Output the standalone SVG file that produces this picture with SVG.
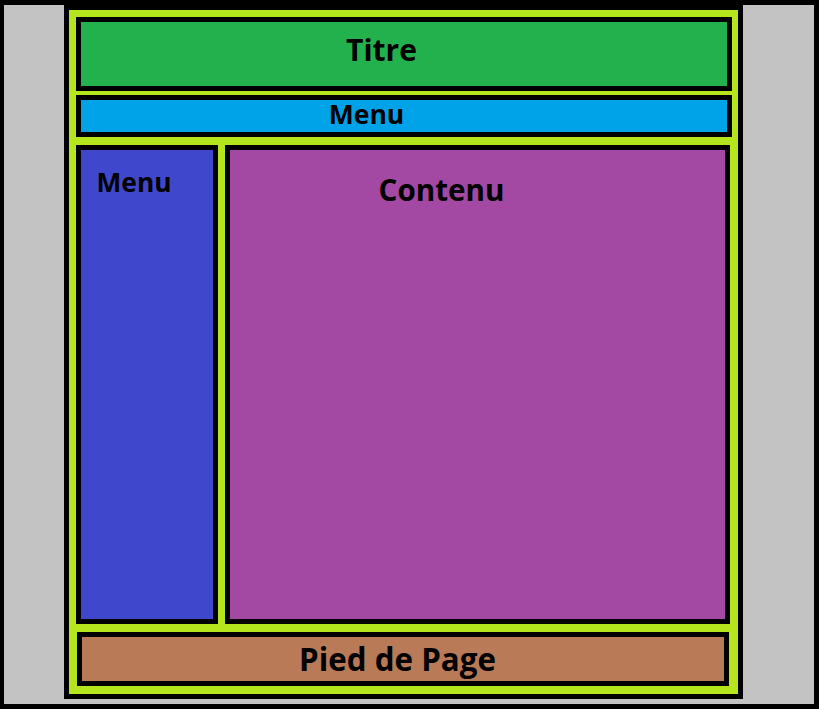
<svg xmlns="http://www.w3.org/2000/svg" width="819" height="709" viewBox="0 0 819 709">
<style>
.lbl{font-family:"Open Sans","Liberation Sans",sans-serif;font-weight:bold;fill:#000;text-anchor:middle}
.box{stroke:none}
</style>
<rect x="0" y="0" width="819" height="709" fill="#000"/>
<rect x="4" y="5" width="810" height="699" fill="#c3c3c3"/>
<rect x="64" y="0" width="679" height="699" fill="#000"/>
<rect x="69" y="10" width="669" height="684" fill="#b5e61d"/>
<g id="titre">
<rect x="76" y="17" width="656" height="74" fill="#000"/>
<rect x="81" y="22" width="646" height="64" fill="#22b14c"/>
<text class="lbl" x="381.5" y="61" font-size="30">Titre</text>
</g>
<g id="menu-haut">
<rect x="76" y="95" width="656" height="42" fill="#000"/>
<rect x="81" y="100" width="646" height="32" fill="#00a2e8"/>
<text class="lbl" x="366.5" y="124" font-size="26.5">Menu</text>
</g>
<g id="menu-gauche">
<rect x="76" y="145" width="142" height="479" fill="#000"/>
<rect x="81" y="150" width="132" height="469" fill="#3f48cc"/>
<text class="lbl" x="134" y="192" font-size="26.3">Menu</text>
</g>
<g id="contenu">
<rect x="225" y="145" width="505" height="479" fill="#000"/>
<rect x="230" y="150" width="495" height="469" fill="#a349a4"/>
<text class="lbl" x="441.5" y="201" font-size="29.6">Contenu</text>
</g>
<g id="pied">
<rect x="77" y="632" width="652" height="54" fill="#000"/>
<rect x="82" y="637" width="642" height="44" fill="#b97a57"/>
<text class="lbl" x="397.5" y="671" font-size="31.3">Pied de Page</text>
</g>
<g id="connecteurs"/>
</svg>
